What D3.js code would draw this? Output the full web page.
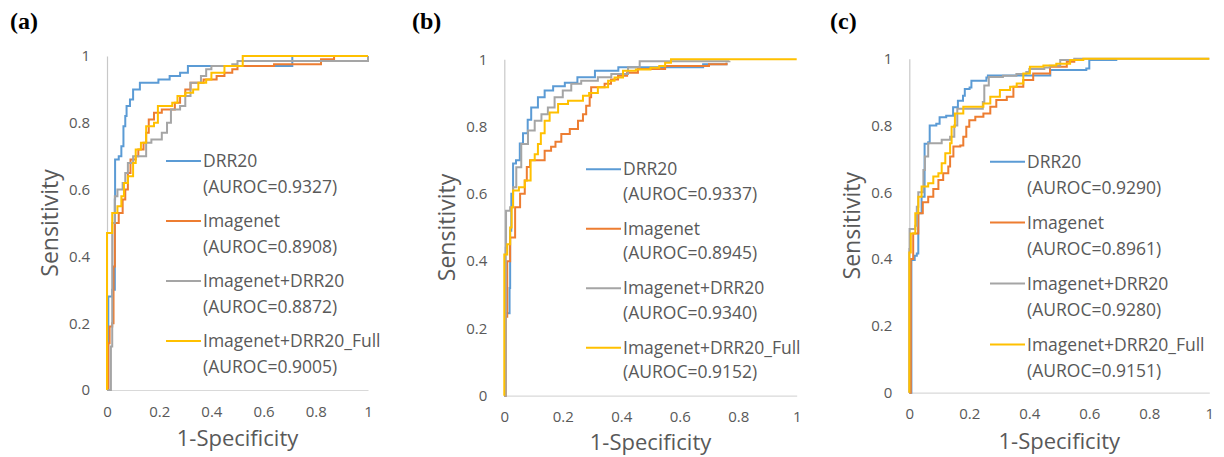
<!DOCTYPE html>
<html>
<head>
<meta charset="utf-8">
<script src="https://cdn.jsdelivr.net/npm/d3@7"></script>
<style>
  body { margin: 0; background: #fff; }
  svg { display: block; }
  .tick text { fill: #595959; font-family: "Open Sans", sans-serif; font-size: 15px; }
</style>
</head>
<body>
<svg id="chart" width="1224" height="457"></svg>
<script>
// panel labels, series and legend values
const panelLabels = ["(a)", "(b)", "(c)"];
const seriesNames = ["DRR20", "Imagenet", "Imagenet+DRR20", "Imagenet+DRR20_Full"];
const aurocA = ["0.9327", "0.8908", "0.8872", "0.9005"];
const aurocB = ["0.9337", "0.8945", "0.9340", "0.9152"];
const aurocC = ["0.9290", "0.8961", "0.9280", "0.9151"];
const xTicks = [0, 0.2, 0.4, 0.6, 0.8, 1];
const yTicks = [0, 0.2, 0.4, 0.6, 0.8, 1];

// ROC points [1-specificity, sensitivity], each point = where the curve steps up
const rocA_DRR20 = [[0,0],[0.005,0.28],[0.02,0.30],[0.03,0.57],[0.031,0.69],[0.045,0.70],[0.055,0.73],[0.063,0.79],[0.07,0.82],[0.075,0.85],[0.088,0.87],[0.10,0.90],[0.126,0.92],[0.197,0.93],[0.24,0.94],[0.28,0.95],[0.31,0.97],[0.71,1.0],[1,1]];
const rocA_Imagenet = [[0,0],[0.005,0.14],[0.01,0.19],[0.02,0.2],[0.025,0.37],[0.03,0.5],[0.045,0.53],[0.06,0.57],[0.07,0.6],[0.08,0.65],[0.09,0.69],[0.11,0.70],[0.12,0.72],[0.14,0.74],[0.15,0.77],[0.16,0.81],[0.18,0.83],[0.21,0.84],[0.26,0.86],[0.28,0.88],[0.30,0.90],[0.32,0.92],[0.37,0.93],[0.42,0.94],[0.45,0.95],[0.48,0.96],[0.5,0.97],[0.64,0.975],[0.82,0.99],[0.87,1.0],[1,1]];
const rocA_Both = [[0,0],[0.015,0.13],[0.02,0.5],[0.03,0.58],[0.04,0.6],[0.06,0.62],[0.07,0.65],[0.08,0.68],[0.10,0.70],[0.15,0.74],[0.17,0.75],[0.21,0.77],[0.23,0.80],[0.245,0.84],[0.28,0.85],[0.30,0.88],[0.32,0.92],[0.36,0.94],[0.38,0.96],[0.40,0.97],[0.48,0.975],[0.5,0.985],[0.88,0.985],[1,1]];
const rocA_Full = [[0,0],[0,0.47],[0.02,0.53],[0.04,0.55],[0.055,0.58],[0.065,0.62],[0.08,0.64],[0.10,0.68],[0.11,0.72],[0.13,0.74],[0.15,0.79],[0.18,0.80],[0.195,0.85],[0.25,0.86],[0.27,0.88],[0.30,0.89],[0.33,0.90],[0.35,0.92],[0.38,0.93],[0.40,0.95],[0.45,0.97],[0.52,1.0],[1,1]];

const rocB_DRR20 = [[0,0],[0.003,0.245],[0.018,0.32],[0.02,0.49],[0.024,0.60],[0.03,0.69],[0.04,0.70],[0.053,0.75],[0.064,0.78],[0.08,0.82],[0.092,0.857],[0.115,0.887],[0.138,0.907],[0.167,0.92],[0.207,0.93],[0.25,0.947],[0.31,0.966],[0.39,0.976],[0.68,0.985],[0.76,0.99]];
const rocB_Imagenet = [[0,0],[0.005,0.235],[0.01,0.40],[0.02,0.47],[0.037,0.56],[0.054,0.60],[0.07,0.64],[0.077,0.68],[0.088,0.70],[0.138,0.728],[0.16,0.74],[0.175,0.755],[0.195,0.778],[0.224,0.793],[0.252,0.817],[0.269,0.837],[0.28,0.862],[0.292,0.887],[0.297,0.917],[0.343,0.927],[0.365,0.94],[0.389,0.951],[0.42,0.96],[0.457,0.971],[0.55,0.98],[0.70,0.985],[0.76,0.99]];
const rocB_Both = [[0,0],[0.005,0.44],[0.006,0.55],[0.02,0.56],[0.03,0.62],[0.041,0.679],[0.058,0.748],[0.081,0.788],[0.104,0.817],[0.127,0.837],[0.149,0.857],[0.172,0.887],[0.2,0.907],[0.229,0.927],[0.263,0.936],[0.32,0.947],[0.366,0.956],[0.423,0.976],[0.463,0.994],[0.77,0.995]];
const rocB_Full = [[0,0],[0,0.42],[0.01,0.45],[0.02,0.50],[0.025,0.56],[0.03,0.61],[0.05,0.62],[0.07,0.64],[0.09,0.70],[0.104,0.718],[0.115,0.748],[0.125,0.78],[0.138,0.817],[0.155,0.842],[0.184,0.867],[0.218,0.877],[0.269,0.892],[0.29,0.90],[0.32,0.917],[0.355,0.936],[0.377,0.946],[0.406,0.966],[0.45,0.97],[0.5,0.975],[0.53,0.98],[0.55,0.99],[0.57,1.0],[1,1]];

const rocC_DRR20 = [[0,0],[0.007,0.317],[0.007,0.397],[0.018,0.41],[0.025,0.417],[0.03,0.537],[0.041,0.587],[0.051,0.745],[0.063,0.75],[0.068,0.80],[0.09,0.805],[0.101,0.825],[0.123,0.829],[0.146,0.855],[0.162,0.874],[0.179,0.889],[0.185,0.909],[0.201,0.914],[0.207,0.934],[0.257,0.944],[0.262,0.95],[0.47,0.966],[0.59,0.971],[0.60,0.996],[0.69,0.998]];
const rocC_Imagenet = [[0,0],[0.005,0.40],[0.013,0.477],[0.03,0.537],[0.045,0.57],[0.063,0.587],[0.08,0.61],[0.097,0.637],[0.113,0.657],[0.13,0.677],[0.136,0.707],[0.147,0.737],[0.17,0.74],[0.18,0.766],[0.19,0.796],[0.2,0.816],[0.22,0.826],[0.247,0.836],[0.27,0.856],[0.29,0.876],[0.325,0.886],[0.347,0.916],[0.38,0.936],[0.413,0.956],[0.469,0.976],[0.525,0.991],[0.55,1.0]];
const rocC_Both = [[0,0],[0,0.43],[0.001,0.49],[0.02,0.50],[0.025,0.557],[0.03,0.60],[0.047,0.667],[0.052,0.707],[0.063,0.747],[0.108,0.757],[0.136,0.766],[0.15,0.80],[0.16,0.85],[0.245,0.87],[0.25,0.92],[0.265,0.945],[0.312,0.949],[0.357,0.954],[0.39,0.96],[0.40,0.969],[0.45,0.974],[0.468,0.979],[0.503,0.996],[0.55,1.0],[1,1]];
const rocC_Full = [[0,0],[0,0.42],[0.005,0.477],[0.02,0.537],[0.03,0.587],[0.041,0.617],[0.063,0.627],[0.08,0.647],[0.097,0.657],[0.108,0.687],[0.12,0.717],[0.136,0.747],[0.141,0.796],[0.152,0.836],[0.18,0.856],[0.247,0.866],[0.27,0.886],[0.302,0.906],[0.336,0.916],[0.358,0.926],[0.38,0.956],[0.402,0.976],[0.447,0.98],[0.49,0.985],[0.536,0.996],[0.58,1.0],[1,1]];

const colors = ["#5B9BD5", "#ED7D31", "#A5A5A5", "#FFC000"];
const textColor = "#595959";

// layout of the three panels (pixels)
const panels = [
  { label: panelLabels[0], labelX: 10, left: 107, right: 368, top: 56, bottom: 390,
    curves: [rocA_DRR20, rocA_Imagenet, rocA_Both, rocA_Full], auroc: aurocA,
    legX: 166, legY: 161, legStep: 60, legLine: 25.5 },
  { label: panelLabels[1], labelX: 412, left: 504.3, right: 796.7, top: 59.3, bottom: 395.7,
    curves: [rocB_DRR20, rocB_Imagenet, rocB_Both, rocB_Full], auroc: aurocB,
    legX: 586, legY: 169.3, legStep: 59.5, legLine: 24.5 },
  { label: panelLabels[2], labelX: 830, left: 909.3, right: 1209.3, top: 58.7, bottom: 392.7,
    curves: [rocC_DRR20, rocC_Imagenet, rocC_Both, rocC_Full], auroc: aurocC,
    legX: 990, legY: 161.7, legStep: 60.9, legLine: 26 }
];

const svg = d3.select("#chart");

panels.forEach(p => {
  const x = d3.scaleLinear().domain([0, 1]).range([p.left, p.right]);
  const y = d3.scaleLinear().domain([0, 1]).range([p.bottom, p.top]);

  // panel letter
  svg.append("text")
    .attr("x", p.labelX)
    .attr("y", 29)
    .attr("font-family", "Liberation Serif, serif")
    .attr("font-weight", "bold")
    .attr("font-size", "24px")
    .attr("fill", "#000")
    .text(p.label);

  // axes
  const gx = svg.append("g")
    .attr("transform", `translate(0,${p.bottom})`)
    .call(d3.axisBottom(x).tickValues(xTicks).tickFormat(d => String(d)).tickSize(0).tickPadding(16));
  const gy = svg.append("g")
    .attr("transform", `translate(${p.left},0)`)
    .call(d3.axisLeft(y).tickValues(yTicks).tickFormat(d => String(d)).tickSize(0).tickPadding(17));
  gx.select(".domain").attr("stroke", "#D9D9D9").attr("stroke-width", 1.2);
  gy.select(".domain").attr("stroke", "#C8C8C8").attr("stroke-width", 1.2);

  // axis titles
  svg.append("text")
    .attr("x", (p.left + p.right) / 2)
    .attr("y", Math.min(p.bottom + 56, 450))
    .attr("text-anchor", "middle")
    .attr("font-family", "Open Sans, sans-serif")
    .attr("font-size", "22px")
    .attr("fill", textColor)
    .text("1-Specificity");

  svg.append("text")
    .attr("transform", `translate(${p.left - 57},${(p.top + p.bottom) / 2}) rotate(-90)`)
    .attr("text-anchor", "middle")
    .attr("dy", "0.35em")
    .attr("font-family", "Open Sans, sans-serif")
    .attr("font-size", "23px")
    .attr("fill", textColor)
    .text("Sensitivity");

  // curves
  const line = d3.line()
    .x(d => x(d[0]))
    .y(d => y(d[1]))
    .curve(d3.curveStepAfter);

  p.curves.forEach((c, i) => {
    svg.append("path")
      .datum(c)
      .attr("d", line)
      .attr("fill", "none")
      .attr("stroke", colors[i])
      .attr("stroke-width", 2)
      .attr("stroke-linejoin", "miter");
  });

  // legend
  seriesNames.forEach((name, i) => {
    const ly = p.legY + i * p.legStep;
    svg.append("line")
      .attr("x1", p.legX).attr("x2", p.legX + 35)
      .attr("y1", ly).attr("y2", ly)
      .attr("stroke", colors[i])
      .attr("stroke-width", 2);
    const t = svg.append("text")
      .attr("font-family", "Open Sans, sans-serif")
      .attr("font-size", "17.5px")
      .attr("fill", textColor);
    t.append("tspan")
      .attr("x", p.legX + 37).attr("y", ly).attr("dy", "0.35em")
      .text(name);
    t.append("tspan")
      .attr("x", p.legX + 37).attr("y", ly + p.legLine).attr("dy", "0.35em")
      .text(`(AUROC=${p.auroc[i]})`);
  });
});
</script>
</body>
</html>
